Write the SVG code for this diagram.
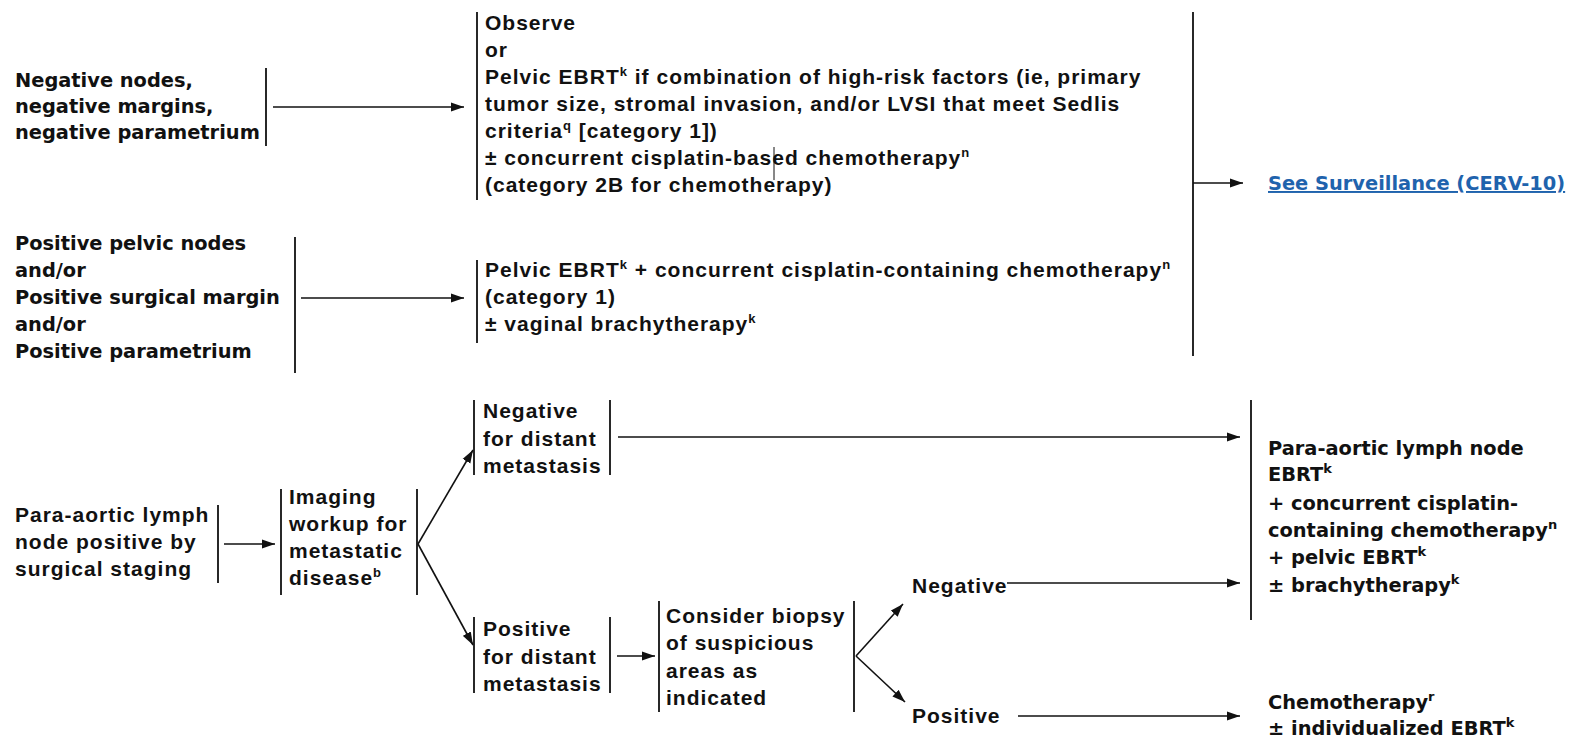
<svg xmlns="http://www.w3.org/2000/svg" width="1571" height="738" viewBox="0 0 1571 738">
<style>
.a{font-family:"Liberation Sans",Arial,sans-serif;font-weight:bold;font-size:21px;letter-spacing:1px;fill:#111}
.v{font-family:"DejaVu Sans",Verdana,sans-serif;font-weight:bold;font-size:19.4px;fill:#111}
.s{font-size:13px}
.bar{stroke:#111;stroke-width:1.8;fill:none}
.ln{stroke:#111;stroke-width:1.6;fill:none}
.link{font-family:"DejaVu Sans",Verdana,sans-serif;font-weight:bold;font-size:19.4px;fill:#1f63ad;text-decoration:underline}
</style>
<defs>
<marker id="ah" markerUnits="userSpaceOnUse" markerWidth="14" markerHeight="10" refX="13" refY="5" orient="auto">
<path d="M0,0.5 L13,5 L0,9.5 Z" fill="#111"/>
</marker>
</defs>
<rect width="1571" height="738" fill="#fff"/>

<g id="n-negnodes">
<text class="v" x="15" y="87">Negative nodes,</text>
<text class="v" x="15" y="113">negative margins,</text>
<text class="v" x="15" y="139">negative parametrium</text>
<line class="bar" x1="266" y1="68" x2="266" y2="146"/>
</g>

<g id="n-observe">
<line class="bar" x1="477" y1="12" x2="477" y2="200"/>
<text class="a" x="485" y="30">Observe</text>
<text class="a" x="485" y="57">or</text>
<text class="a" x="485" y="84">Pelvic EBRT<tspan class="s" dy="-8">k</tspan><tspan dy="8"> if combination of high-risk factors (ie, primary</tspan></text>
<text class="a" x="485" y="111">tumor size, stromal invasion, and/or LVSI that meet Sedlis</text>
<text class="a" x="485" y="138">criteria<tspan class="s" dy="-8">q</tspan><tspan dy="8"> [category 1])</tspan></text>
<text class="a" x="485" y="165">± concurrent cisplatin-based chemotherapy<tspan class="s" dy="-8">n</tspan></text>
<text class="a" x="485" y="192">(category 2B for chemotherapy)</text>
<line x1="774" y1="147" x2="774" y2="180" stroke="#111" stroke-width="1"/>
</g>

<g id="n-posnodes">
<text class="v" x="15" y="250">Positive pelvic nodes</text>
<text class="v" x="15" y="277">and/or</text>
<text class="v" x="15" y="304">Positive surgical margin</text>
<text class="v" x="15" y="331">and/or</text>
<text class="v" x="15" y="358">Positive parametrium</text>
<line class="bar" x1="295" y1="237" x2="295" y2="373"/>
</g>

<g id="n-pelvic">
<line class="bar" x1="477" y1="260" x2="477" y2="343"/>
<text class="a" x="485" y="277">Pelvic EBRT<tspan class="s" dy="-8">k</tspan><tspan dy="8"> + concurrent cisplatin-containing chemotherapy</tspan><tspan class="s" dy="-8">n</tspan></text>
<text class="a" x="485" y="304">(category 1)</text>
<text class="a" x="485" y="331">± vaginal brachytherapy<tspan class="s" dy="-8">k</tspan></text>
</g>

<g id="n-surveillance">
<line class="bar" x1="1193" y1="12" x2="1193" y2="356"/>
<text class="link" x="1268" y="190">See Surveillance (CERV-10)</text>
</g>

<g id="n-paraaortic">
<text class="a" x="15" y="522">Para-aortic lymph</text>
<text class="a" x="15" y="549">node positive by</text>
<text class="a" x="15" y="576">surgical staging</text>
<line class="bar" x1="218" y1="505" x2="218" y2="583"/>
</g>

<g id="n-imaging">
<line class="bar" x1="281" y1="489" x2="281" y2="595"/>
<line class="bar" x1="417" y1="489" x2="417" y2="595"/>
<text class="a" x="289" y="504">Imaging</text>
<text class="a" x="289" y="531">workup for</text>
<text class="a" x="289" y="558">metastatic</text>
<text class="a" x="289" y="585">disease<tspan class="s" dy="-8">b</tspan></text>
</g>

<g id="n-negdistant">
<line class="bar" x1="474" y1="400" x2="474" y2="475"/>
<line class="bar" x1="610" y1="400" x2="610" y2="475"/>
<text class="a" x="483" y="418">Negative</text>
<text class="a" x="483" y="446">for distant</text>
<text class="a" x="483" y="473">metastasis</text>
</g>

<g id="n-posdistant">
<line class="bar" x1="474" y1="617" x2="474" y2="693"/>
<line class="bar" x1="610" y1="617" x2="610" y2="693"/>
<text class="a" x="483" y="636">Positive</text>
<text class="a" x="483" y="664">for distant</text>
<text class="a" x="483" y="691">metastasis</text>
</g>

<g id="n-biopsy">
<line class="bar" x1="659" y1="601" x2="659" y2="712"/>
<line class="bar" x1="854" y1="601" x2="854" y2="712"/>
<text class="a" x="666" y="623">Consider biopsy</text>
<text class="a" x="666" y="650">of suspicious</text>
<text class="a" x="666" y="678">areas as</text>
<text class="a" x="666" y="705">indicated</text>
</g>

<g id="n-neg2">
<text class="a" x="912" y="593">Negative</text>
</g>

<g id="n-pos2">
<text class="a" x="912" y="723">Positive</text>
</g>

<g id="n-paraEBRT">
<line class="bar" x1="1251" y1="400" x2="1251" y2="620"/>
<text class="v" x="1268" y="455">Para-aortic lymph node</text>
<text class="v" x="1268" y="481">EBRT<tspan class="s" dy="-8">k</tspan></text>
<text class="v" x="1268" y="510">+ concurrent cisplatin-</text>
<text class="v" x="1268" y="537">containing chemotherapy<tspan class="s" dy="-8">n</tspan></text>
<text class="v" x="1268" y="564">+ pelvic EBRT<tspan class="s" dy="-8">k</tspan></text>
<text class="v" x="1268" y="592">± brachytherapy<tspan class="s" dy="-8">k</tspan></text>
</g>

<g id="n-chemo">
<text class="v" x="1268" y="709">Chemotherapy<tspan class="s" dy="-8">r</tspan></text>
<text class="v" x="1268" y="735">± individualized EBRT<tspan class="s" dy="-8">k</tspan></text>
</g>

<g id="connectors">
<line class="ln" x1="273" y1="107" x2="464" y2="107" marker-end="url(#ah)"/>
<line class="ln" x1="301" y1="298" x2="464" y2="298" marker-end="url(#ah)"/>
<line class="ln" x1="1193" y1="183" x2="1243" y2="183" marker-end="url(#ah)"/>
<line class="ln" x1="224" y1="544" x2="275" y2="544" marker-end="url(#ah)"/>
<line class="ln" x1="418" y1="544" x2="473" y2="450" marker-end="url(#ah)"/>
<line class="ln" x1="418" y1="544" x2="473" y2="645" marker-end="url(#ah)"/>
<line class="ln" x1="618" y1="437" x2="1240" y2="437" marker-end="url(#ah)"/>
<line class="ln" x1="617" y1="656" x2="655" y2="656" marker-end="url(#ah)"/>
<line class="ln" x1="856" y1="656" x2="903" y2="604" marker-end="url(#ah)"/>
<line class="ln" x1="856" y1="656" x2="905" y2="702" marker-end="url(#ah)"/>
<line class="ln" x1="1007" y1="583" x2="1240" y2="583" marker-end="url(#ah)"/>
<line class="ln" x1="1018" y1="716" x2="1240" y2="716" marker-end="url(#ah)"/>
</g>
</svg>
